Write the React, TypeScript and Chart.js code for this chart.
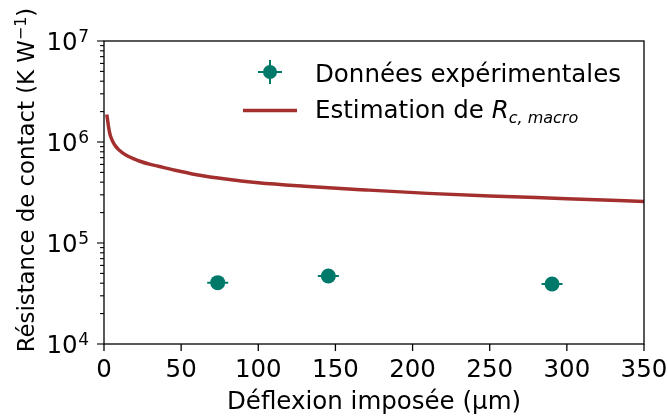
import React, { useEffect, useRef } from "react";
import { Chart, registerables } from "chart.js";

Chart.register(...registerables);

// ---- data ----
const deflexionExp = [73.7, 145.4, 290.4];
const resistanceExp = [4.05e4, 4.71e4, 3.93e4];
const deflexionErr = [6.8, 6.8, 6.8];
const resistanceErr = [1.5e3, 1.5e3, 1.5e3];

const deflexionModel = [1.8, 2.3, 3, 3.9, 5, 6, 7.5, 9.3, 12, 14.7, 19, 23.3, 30, 35.2, 45, 60, 80, 100, 130, 170, 210, 250, 300, 350];
const resistanceModel = [
  1.87e6, 1.66e6, 1.4e6, 1.19e6, 1.07e6, 9.9e5, 9.1e5, 8.45e5, 7.8e5, 7.35e5, 6.85e5, 6.45e5,
  6.0e5, 5.75e5, 5.3e5, 4.75e5, 4.28e5, 3.95e5, 3.65e5, 3.35e5, 3.1e5, 2.92e5, 2.75e5, 2.58e5,
];

const xTicks = [0, 50, 100, 150, 200, 250, 300, 350];
const yExponents = [4, 5, 6, 7];
const yMinorMultipliers = [2, 3, 4, 5, 6, 7, 8, 9];

const legendExp = "Données expérimentales";
const legendModel = "Estimation de ";
const legendModelSymbol = "R";
const legendModelSub = "c, macro";
const xTitle = "Déflexion imposée (µm)";
const yTitleMain = "Résistance de contact (K W";
const yTitleSup = "−1";
const yTitleEnd = ")";

const TEAL = "#00796b";
const BROWN = "#a3302f";
const FONT = "DejaVu Sans";
const FS = 24.5;
const FS_SMALL = 17;
const FS_YT = 22.8;
const FS_YT_SUP = 16;

const mplPlugin = {
  id: "mplStyle",
  beforeDatasetsDraw(chart: any) {
    const ctx = chart.ctx;
    const xs = chart.scales.x;
    const ys = chart.scales.y;
    ctx.save();
    ctx.strokeStyle = TEAL;
    ctx.lineWidth = 2;
    for (let i = 0; i < deflexionExp.length; i++) {
      const px = xs.getPixelForValue(deflexionExp[i]);
      const py = ys.getPixelForValue(resistanceExp[i]);
      ctx.beginPath();
      ctx.moveTo(xs.getPixelForValue(deflexionExp[i] - deflexionErr[i]), py);
      ctx.lineTo(xs.getPixelForValue(deflexionExp[i] + deflexionErr[i]), py);
      ctx.moveTo(px, ys.getPixelForValue(resistanceExp[i] - resistanceErr[i]));
      ctx.lineTo(px, ys.getPixelForValue(resistanceExp[i] + resistanceErr[i]));
      ctx.stroke();
    }
    ctx.restore();
  },
  afterDraw(chart: any) {
    const ctx = chart.ctx;
    const { left, right, top, bottom } = chart.chartArea;
    const xs = chart.scales.x;
    const ys = chart.scales.y;
    ctx.save();
    ctx.strokeStyle = "#000";
    ctx.fillStyle = "#000";
    ctx.lineWidth = 1.3;
    // frame
    ctx.strokeRect(left, top, right - left, bottom - top);

    // x ticks
    ctx.font = `${FS}px "${FONT}"`;
    ctx.textAlign = "center";
    ctx.textBaseline = "alphabetic";
    for (const t of xTicks) {
      const px = xs.getPixelForValue(t);
      ctx.beginPath();
      ctx.moveTo(px, bottom);
      ctx.lineTo(px, bottom + 7);
      ctx.stroke();
      ctx.fillText(String(t), px, 377);
    }
    // x title
    ctx.fillText(xTitle, (left + right) / 2, 409);

    // y ticks
    ctx.lineWidth = 1.1;
    for (let k = 0; k < yExponents.length; k++) {
      const e = yExponents[k];
      const py = ys.getPixelForValue(Math.pow(10, e));
      ctx.beginPath();
      ctx.moveTo(left, py);
      ctx.lineTo(left - 7, py);
      ctx.stroke();
      if (k < yExponents.length - 1) {
        for (const m of yMinorMultipliers) {
          const pm = ys.getPixelForValue(m * Math.pow(10, e));
          ctx.beginPath();
          ctx.moveTo(left, pm);
          ctx.lineTo(left - 4, pm);
          ctx.stroke();
        }
      }
      // label 10^e
      ctx.font = `${FS_SMALL}px "${FONT}"`;
      const expStr = String(e);
      const ew = ctx.measureText(expStr).width;
      const ex = 89 - ew;
      ctx.textAlign = "left";
      ctx.fillText(expStr, ex, py + 0.5);
      ctx.font = `${FS}px "${FONT}"`;
      ctx.textAlign = "right";
      ctx.fillText("10", ex - 0.5, py + 9);
    }

    // y title (rotated)
    ctx.save();
    ctx.translate(34, 180);
    ctx.rotate(-Math.PI / 2);
    ctx.textAlign = "left";
    ctx.font = `${FS_YT}px "${FONT}"`;
    const w1 = ctx.measureText(yTitleMain).width;
    const w3 = ctx.measureText(yTitleEnd).width;
    ctx.font = `${FS_YT_SUP}px "${FONT}"`;
    const w2 = ctx.measureText(yTitleSup).width;
    const total = w1 + w2 + w3;
    let cx = -total / 2;
    ctx.font = `${FS_YT}px "${FONT}"`;
    ctx.fillText(yTitleMain, cx, 0);
    cx += w1;
    ctx.font = `${FS_YT_SUP}px "${FONT}"`;
    ctx.fillText(yTitleSup, cx, -8.5);
    cx += w2;
    ctx.font = `${FS_YT}px "${FONT}"`;
    ctx.fillText(yTitleEnd, cx, 0);
    ctx.restore();

    // legend
    const mx = 270;
    const my = 72;
    ctx.strokeStyle = TEAL;
    ctx.fillStyle = TEAL;
    ctx.lineWidth = 2;
    ctx.beginPath();
    ctx.moveTo(mx - 12, my);
    ctx.lineTo(mx + 12, my);
    ctx.moveTo(mx, my - 12);
    ctx.lineTo(mx, my + 12);
    ctx.stroke();
    ctx.beginPath();
    ctx.arc(mx, my, 7, 0, Math.PI * 2);
    ctx.fill();

    ctx.strokeStyle = BROWN;
    ctx.lineWidth = 3.5;
    ctx.beginPath();
    ctx.moveTo(243, 110.5);
    ctx.lineTo(297, 110.5);
    ctx.stroke();

    ctx.fillStyle = "#000";
    ctx.textAlign = "left";
    ctx.font = `${FS}px "${FONT}"`;
    ctx.fillText(legendExp, 315, 82);
    ctx.fillText(legendModel, 315, 118);
    let lx = 315 + ctx.measureText(legendModel).width;
    ctx.font = `italic ${FS}px "${FONT}"`;
    ctx.fillText(legendModelSymbol, lx, 118);
    lx += ctx.measureText(legendModelSymbol).width;
    ctx.font = `italic 16px "${FONT}"`;
    ctx.fillText(legendModelSub, lx, 122.5);

    ctx.restore();
  },
};

export default function App() {
  const canvasRef = useRef<HTMLCanvasElement | null>(null);

  useEffect(() => {
    if (!canvasRef.current) return;
    const chart = new Chart(canvasRef.current, {
      type: "line",
      data: {
        datasets: [
          {
            label: legendExp,
            data: deflexionExp.map((x, i) => ({ x, y: resistanceExp[i] })),
            showLine: false,
            pointRadius: 7.5,
            pointHoverRadius: 7.5,
            pointBackgroundColor: TEAL,
            pointBorderWidth: 0,
            borderColor: TEAL,
            backgroundColor: TEAL,
          },
          {
            label: legendModel + legendModelSymbol,
            data: deflexionModel.map((x, i) => ({ x, y: resistanceModel[i] })),
            borderColor: BROWN,
            borderWidth: 3.5,
            pointRadius: 0,
            cubicInterpolationMode: "monotone",
            fill: false,
          },
        ],
      },
      options: {
        responsive: false,
        animation: false,
        devicePixelRatio: 1,
        layout: { padding: { left: 104, top: 41, right: 24, bottom: 75 } },
        plugins: { legend: { display: false }, tooltip: { enabled: false } },
        events: [],
        scales: {
          x: { type: "linear", min: 0, max: 350, display: false },
          y: { type: "logarithmic", min: 1e4, max: 1e7, display: false },
        },
      },
      plugins: [mplPlugin],
    } as any);
    return () => chart.destroy();
  }, []);

  return (
    <div style={{ position: "absolute", left: 0, top: 0, width: 668, height: 419, background: "#fff" }}>
      <canvas ref={canvasRef} width={668} height={419} />
    </div>
  );
}
